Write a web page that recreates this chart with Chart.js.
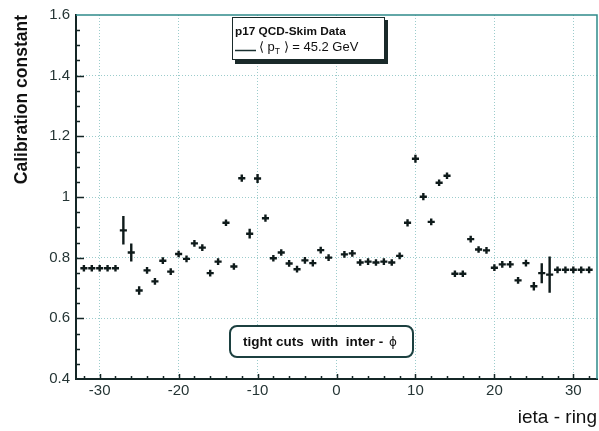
<!DOCTYPE html>
<html>
<head>
<meta charset="utf-8">
<script src="https://cdn.jsdelivr.net/npm/chart.js@4.4.0/dist/chart.umd.min.js"></script>
<style>
  html, body { margin: 0; padding: 0; background: #fff; }
  canvas { display: block; }
</style>
</head>
<body>
<canvas id="calibChart" width="599" height="431"></canvas>
<script>
// ieta rings (no ring 0)
const ieta = [
  -32, -31, -30, -29, -28, -27, -26, -25, -24, -23, -22, -21, -20, -19, -18, -17,
  -16, -15, -14, -13, -12, -11, -10, -9, -8, -7, -6, -5, -4, -3, -2, -1,
  1, 2, 3, 4, 5, 6, 7, 8, 9, 10, 11, 12, 13, 14, 15, 16,
  17, 18, 19, 20, 21, 22, 23, 24, 25, 26, 27, 28, 29, 30, 31, 32
];
const calib = [
  0.765, 0.765, 0.765, 0.765, 0.765, 0.890, 0.817, 0.692, 0.758, 0.722, 0.790, 0.754, 0.812, 0.796, 0.847, 0.833,
  0.749, 0.787, 0.915, 0.771, 1.062, 0.879, 1.061, 0.930, 0.798, 0.817, 0.781, 0.762, 0.791, 0.782, 0.825, 0.800,
  0.811, 0.814, 0.784, 0.787, 0.784, 0.787, 0.784, 0.806, 0.915, 1.126, 1.001, 0.918, 1.047, 1.070, 0.747, 0.747,
  0.861, 0.827, 0.824, 0.767, 0.778, 0.778, 0.725, 0.782, 0.706, 0.749, 0.744, 0.760, 0.760, 0.760, 0.760, 0.760
];
const calibErr = [
  0.011, 0.011, 0.011, 0.011, 0.011, 0.047, 0.030, 0.014, 0.011, 0.011, 0.011, 0.011, 0.011, 0.011, 0.011, 0.011,
  0.011, 0.011, 0.011, 0.011, 0.012, 0.016, 0.015, 0.012, 0.011, 0.011, 0.011, 0.011, 0.011, 0.011, 0.011, 0.011,
  0.011, 0.011, 0.011, 0.011, 0.011, 0.011, 0.011, 0.011, 0.012, 0.013, 0.012, 0.011, 0.011, 0.011, 0.011, 0.011,
  0.011, 0.011, 0.011, 0.011, 0.011, 0.011, 0.011, 0.011, 0.014, 0.033, 0.060, 0.011, 0.011, 0.011, 0.011, 0.011
];
const xTicks = [-30, -20, -10, 0, 10, 20, 30];
const xTickLabels = ["-30", "-20", "-10", "0", "10", "20", "30"];
const yTicks = [0.4, 0.6, 0.8, 1.0, 1.2, 1.4, 1.6];
const yTickLabels = ["0.4", "0.6", "0.8", "1", "1.2", "1.4", "1.6"];

const axisColor = "#142626";
const gridColor = "#9ccccc";
const textColor = "#253535";

// error crosses, inner ticks, frame and the two text boxes
const rootStyle = {
  id: "rootStyle",
  afterDraw(chart) {
    const { ctx, chartArea: a, scales } = chart;
    const x = scales.x, y = scales.y;
    ctx.save();

    // top / right frame
    ctx.strokeStyle = "#2f8a8a";
    ctx.lineWidth = 1.5;
    ctx.beginPath();
    ctx.moveTo(a.left, a.top);
    ctx.lineTo(a.right, a.top);
    ctx.lineTo(a.right, a.bottom);
    ctx.stroke();

    // inner tick marks
    ctx.strokeStyle = axisColor;
    ctx.lineWidth = 1.5;
    ctx.beginPath();
    for (let v = -32; v <= 32; v += 2) {
      const px = Math.round(x.getPixelForValue(v)) + 0.5;
      const len = v % 10 === 0 ? 5 : 3;
      ctx.moveTo(px, a.bottom);
      ctx.lineTo(px, a.bottom - len);
    }
    for (let k = 9; k <= 31; k++) {
      const v = k * 0.05;
      const py = Math.round(y.getPixelForValue(v)) + 0.5;
      const len = k % 4 === 0 ? 8 : 4;
      ctx.moveTo(a.left, py);
      ctx.lineTo(a.left + len, py);
    }
    ctx.stroke();

    // data points with error bars
    ctx.strokeStyle = "#0e1a1a";
    ctx.lineWidth = 2.4;
    ctx.beginPath();
    ieta.forEach((v, i) => {
      const px = x.getPixelForValue(v);
      const py = y.getPixelForValue(calib[i]);
      ctx.moveTo(x.getPixelForValue(v - 0.45), py);
      ctx.lineTo(x.getPixelForValue(v + 0.45), py);
      ctx.moveTo(px, y.getPixelForValue(calib[i] - calibErr[i]));
      ctx.lineTo(px, y.getPixelForValue(calib[i] + calibErr[i]));
    });
    ctx.stroke();

    // legend box with shadow
    ctx.fillStyle = "#1a2a2a";
    ctx.fillRect(235, 20, 153, 44);
    ctx.fillStyle = "#fff";
    ctx.fillRect(232, 17, 153, 43);
    ctx.strokeStyle = "#1a2a2a";
    ctx.lineWidth = 1;
    ctx.strokeRect(232.5, 17.5, 152, 42);

    ctx.fillStyle = "#111";
    ctx.textBaseline = "alphabetic";
    ctx.textAlign = "left";
    ctx.font = "bold 11.8px 'Liberation Sans', Arial, sans-serif";
    ctx.fillText("p17 QCD-Skim Data", 235, 35);

    ctx.strokeStyle = "#1a3030";
    ctx.lineWidth = 1.5;
    ctx.beginPath();
    ctx.moveTo(235, 50.5);
    ctx.lineTo(256, 50.5);
    ctx.stroke();

    ctx.font = "13px 'Liberation Sans', Arial, sans-serif";
    let tx = 259;
    const base = 51;
    ctx.fillText("\u27E8 p", tx, base);
    tx += ctx.measureText("\u27E8 p").width;
    ctx.font = "8.5px 'Liberation Sans', Arial, sans-serif";
    ctx.fillText("T", tx, base + 3);
    tx += ctx.measureText("T").width;
    ctx.font = "13px 'Liberation Sans', Arial, sans-serif";
    ctx.fillText(" \u27E9 = 45.2 GeV", tx, base);

    // label box
    ctx.fillStyle = "#fff";
    ctx.strokeStyle = "#1c4040";
    ctx.lineWidth = 2;
    ctx.beginPath();
    ctx.roundRect(230, 326, 183, 31, 7);
    ctx.fill();
    ctx.stroke();
    ctx.fillStyle = "#111";
    ctx.font = "bold 13.5px 'Liberation Sans', Arial, sans-serif";
    ctx.textBaseline = "middle";
    const lbl = "tight cuts  with  inter - ";
    ctx.fillText(lbl, 243, 342);
    const lw = ctx.measureText(lbl).width;
    ctx.font = "12px 'DejaVu Sans', sans-serif";
    ctx.fillText("\u03D5", 243 + lw + 2, 343);

    ctx.restore();
  }
};

const points = ieta.map((v, i) => ({ x: v, y: calib[i] }));

const chart = new Chart(document.getElementById("calibChart").getContext("2d"), {
  type: "scatter",
  data: {
    datasets: [
      {
        label: "Calibration constant",
        data: points,
        pointRadius: 0,
        pointHoverRadius: 0,
        showLine: false,
      },
    ],
  },
  options: {
    responsive: false,
    animation: false,
    events: [],
    layout: { padding: { left: 0, right: 2, top: 10, bottom: 0 } },
    plugins: {
      legend: { display: false },
      tooltip: { enabled: false },
    },
    scales: {
      x: {
        type: "linear",
        min: -33,
        max: 33,
        afterBuildTicks: (scale) => {
          scale.ticks = xTicks.map((v) => ({ value: v }));
        },
        afterFit: (scale) => {
          scale.height = 52;
        },
        ticks: {
          callback: (v, i) => xTickLabels[i],
          color: textColor,
          padding: 3,
          maxRotation: 0,
          font: { family: "'Liberation Sans', Arial, sans-serif", size: 15 },
        },
        grid: {
          color: gridColor,
          lineWidth: 1,
          drawTicks: false,
          tickLength: 0,
        },
        border: { color: axisColor, width: 2, dash: [1, 2] },
        title: {
          display: true,
          text: "ieta - ring",
          align: "end",
          color: "#111",
          padding: { top: 0, bottom: 2 },
          font: { family: "'Liberation Sans', Arial, sans-serif", size: 19 },
        },
      },
      y: {
        type: "linear",
        min: 0.4,
        max: 1.6,
        afterBuildTicks: (scale) => {
          scale.ticks = yTicks.map((v) => ({ value: v }));
        },
        afterFit: (scale) => {
          scale.width = 76;
        },
        ticks: {
          callback: (v, i) => yTickLabels[i],
          color: textColor,
          padding: 6,
          font: { family: "'Liberation Sans', Arial, sans-serif", size: 15 },
        },
        grid: {
          color: (c) =>
            c.tick && (c.tick.value < 0.5 || c.tick.value > 1.5) ? "rgba(0,0,0,0)" : gridColor,
          lineWidth: 1,
          drawTicks: false,
          tickLength: 0,
        },
        border: { color: axisColor, width: 2, dash: [1, 2] },
        title: {
          display: true,
          text: "Calibration constant",
          align: "end",
          color: "#111",
          padding: { top: 12, bottom: 0 },
          font: { family: "'Liberation Sans', Arial, sans-serif", size: 17.5, weight: "bold" },
        },
      },
    },
  },
  plugins: [rootStyle],
});
</script>
</body>
</html>
